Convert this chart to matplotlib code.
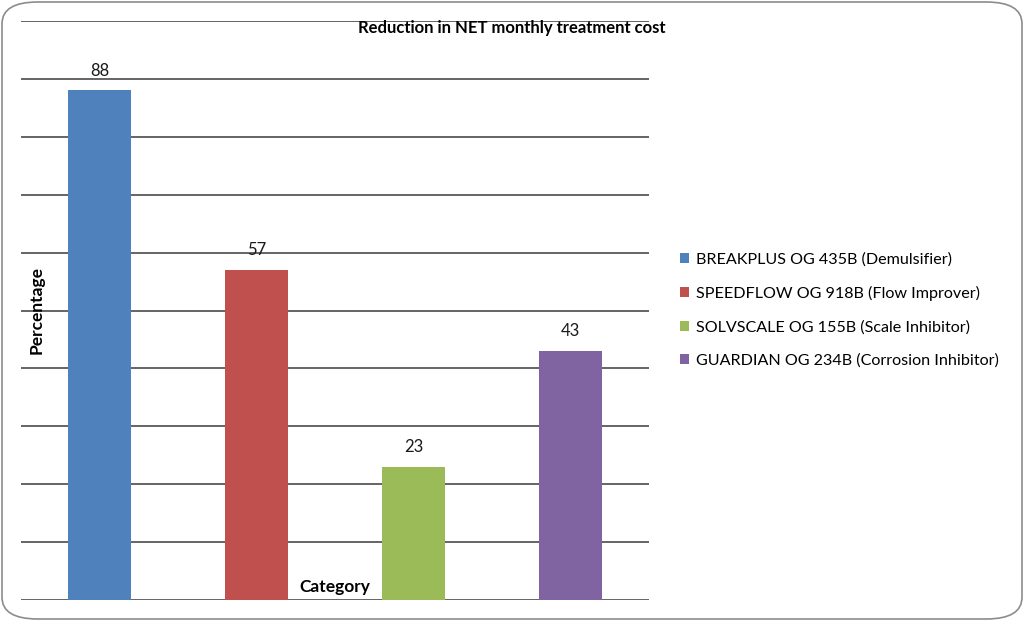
import matplotlib.pyplot as plt
from matplotlib.patches import FancyBboxPatch, Patch

# data
products = ['BREAKPLUS OG 435B (Demulsifier)',
            'SPEEDFLOW OG 918B (Flow Improver)',
            'SOLVSCALE OG 155B (Scale Inhibitor)',
            'GUARDIAN OG 234B (Corrosion Inhibitor)']
reduction = [88, 57, 23, 43]
colors = ['#4F81BD', '#C0504D', '#9BBB59', '#8064A2']

plt.rcParams['font.family'] = ['Lato', 'DejaVu Sans']

fig = plt.figure(figsize=(10.24, 6.21), dpi=100)
W, H = 1024, 621

# rounded border of the chart area (drawn on top, no fill)
fig.patches.append(FancyBboxPatch((2 / W, 2 / H), 1 - 4 / W, 1 - 4 / H,
                                  boxstyle='round,pad=0,rounding_size=0.035',
                                  transform=fig.transFigure, facecolor='none',
                                  edgecolor='#8c8c8c', linewidth=1.2, zorder=10))

ax = fig.add_axes([21 / W, (H - 600) / H, (649 - 21) / W, (600 - 21) / H])
ax.set_facecolor('none')

x = range(len(reduction))
bars = ax.bar(x, reduction, width=0.4, color=colors, zorder=3)
for b, v in zip(bars, reduction):
    ax.text(b.get_x() + b.get_width() / 2, v + 2.0, str(v), ha='center', va='bottom',
            fontsize=12, color='#1a1a1a')

ax.set_xlim(-0.5, 3.5)
ax.set_ylim(0, 100)
ax.set_yticks(range(0, 101, 10))
ax.grid(axis='y', color='#3a3a3a', linewidth=1.1, zorder=0)
ax.tick_params(left=False, bottom=False, labelleft=False, labelbottom=False)
for s in ax.spines.values():
    s.set_visible(False)

fig.text(512 / W, 1 - 28 / H, 'Reduction in NET monthly treatment cost',
         ha='center', va='center', fontsize=12, fontweight='bold')
fig.text(37 / W, 1 - 310 / H, 'Percentage', rotation=90, ha='center', va='center',
         fontsize=12.5, fontweight='bold')
fig.text(335 / W, 1 - 587 / H, 'Category', ha='center', va='center',
         fontsize=12.5, fontweight='bold')

handles = [Patch(facecolor=c) for c in colors]
fig.legend(handles, products, loc='center left', bbox_to_anchor=(665 / W, 1 - 310 / H),
           frameon=False, fontsize=11.6, handlelength=0.6, handleheight=0.6,
           handletextpad=0.4, labelspacing=1.2)

fig.savefig('out.png', dpi=100)
